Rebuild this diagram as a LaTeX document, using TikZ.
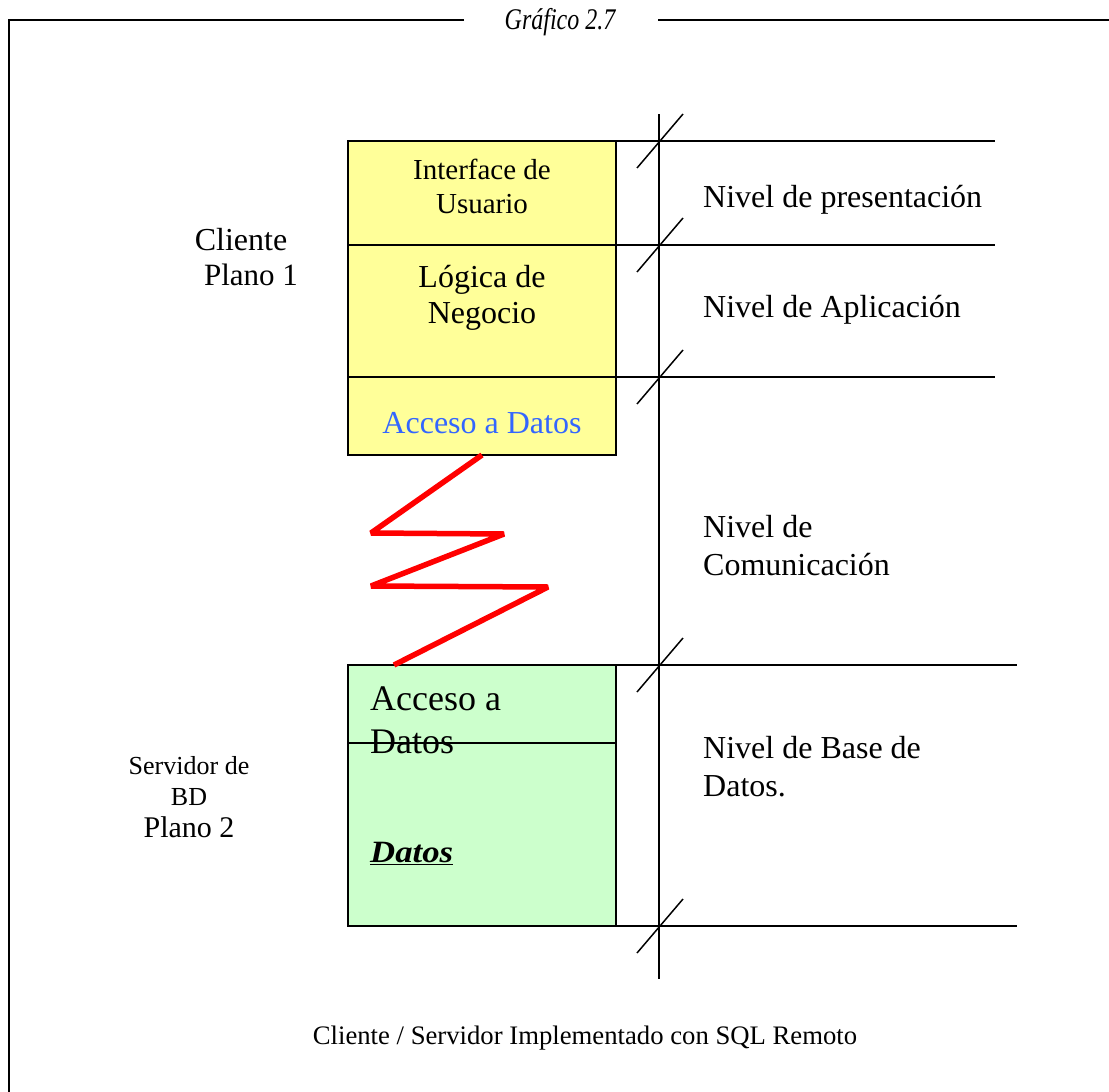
\documentclass[tikz,border=0pt]{standalone}
\usepackage{fontspec}
\setmainfont{Liberation Serif}
\usetikzlibrary{calc}
\definecolor{layeryellow}{HTML}{FFFF99}
\definecolor{layergreen}{HTML}{CCFFCC}
\definecolor{linkblue}{HTML}{3366FF}
\newcommand{\fsz}[2]{\fontsize{#1}{#2}\selectfont}
\begin{document}
\begin{tikzpicture}[x=1pt,y=-1pt,
  rule/.style={line width=2pt},
  cell/.style={draw, line width=2pt, minimum width=268pt, inner sep=0pt,
    outer sep=0pt, anchor=north west},
  ycell/.style={cell, fill=layeryellow},
  gcell/.style={cell, fill=layergreen},
  lbl/.style={inner sep=0pt, align=center},
  lvl/.style={inner sep=0pt, align=left, anchor=base west, font=\fsz{32}{38}},
  tick/.style={line width=1.5pt},
  zig/.style={draw=red, line width=5.5pt, line join=bevel}
]
\useasboundingbox (0,0) rectangle (1109,1092);

% outer frame with the caption title
\node[inner sep=0pt, anchor=base, xscale=0.8, transform shape,
  font=\fsz{30}{34}\itshape] (title) at (560,30) {Gráfico 2.7};
\coordinate (frameL) at (464,20);
\coordinate (frameR) at (658,20);
\draw[rule] (frameL) -- (9,20) -- (9,1092);
\draw[rule] (frameR) -- (1109,20);

% client stack (plane 1)
\node[ycell, minimum height=104pt] (ui)   at (348,141) {};
\node[ycell, minimum height=132pt] (biz)  at (348,245) {};
\node[ycell, minimum height=78pt]  (cacc) at (348,377) {};

% server stack (plane 2)
\node[gcell, minimum height=78pt]  (sacc) at (348,665) {};
\node[gcell, minimum height=183pt] (sdat) at (348,743) {};

% level boundaries
\draw[rule] (ui.north east)   -- ++(379,0);
\draw[rule] (biz.north east)  -- ++(379,0);
\draw[rule] (cacc.north east) -- ++(379,0);
\draw[rule] (sacc.north east) -- ++(401,0);
\draw[rule] (sdat.south east) -- ++(401,0);

% vertical axis with boundary ticks
\coordinate (axtop) at (659,114);
\coordinate (axbot) at (659,979);
\draw[rule] (axtop) -- (axbot);
\foreach \y in {141,245,377,665,926}
  \draw[tick] (637,\y+27) -- (683,\y-27);

% remote link between the two planes
\draw[zig] (cacc.south) -- (371,533) -- (504,534) -- (371,586) -- (548,587)
  -- ($(sacc.north west)+(46,0)$);

% texts inside the stacks
\node[lbl, font=\fsz{29}{34}] (tui) at (482,186) {Interface de\\Usuario};
\node[lbl, font=\fsz{32}{36}] (tbiz) at (482,298) {Lógica de\\Negocio};
\node[inner sep=0pt, anchor=base, font=\fsz{32}{36}, text=linkblue] (tcacc) at (482,433) {Acceso a Datos};
\node[inner sep=0pt, anchor=base west, align=left, font=\fsz{36}{43}] (tsacc) at (370,753) {Acceso a\\Datos};
\node[inner sep=0pt, anchor=base west, xscale=1.12, transform shape,
  font=\fsz{31}{36}\bfseries\itshape] (tsdat) at (370,862) {\underline{Datos}};

% plane labels
\node[inner sep=0pt, anchor=base, font=\fsz{32}{36}] (client) at (241,250) {Cliente};
\node[inner sep=0pt, anchor=base, font=\fsz{31}{36}] (clientplane) at (251,285) {Plano 1};
\node[lbl, anchor=base, font=\fsz{26}{31}] (server) at (189,837) {Servidor de\\BD\\[1pt]{\fsz{30}{33}Plano 2}};

% level names
\node[lvl] (lpres) at (703,207) {Nivel de presentación};
\node[lvl] (lapp)  at (703,317) {Nivel de Aplicación};
\node[lvl] (lcom)  at (703,575) {Nivel de\\Comunicación};
\node[lvl] (ldb)   at (703,796) {Nivel de Base de\\Datos.};

% caption
\node[inner sep=0pt, anchor=base, font=\fsz{26.7}{30}] (caption) at (585,1044) {Cliente / Servidor Implementado con SQL Remoto};
\end{tikzpicture}
\end{document}
